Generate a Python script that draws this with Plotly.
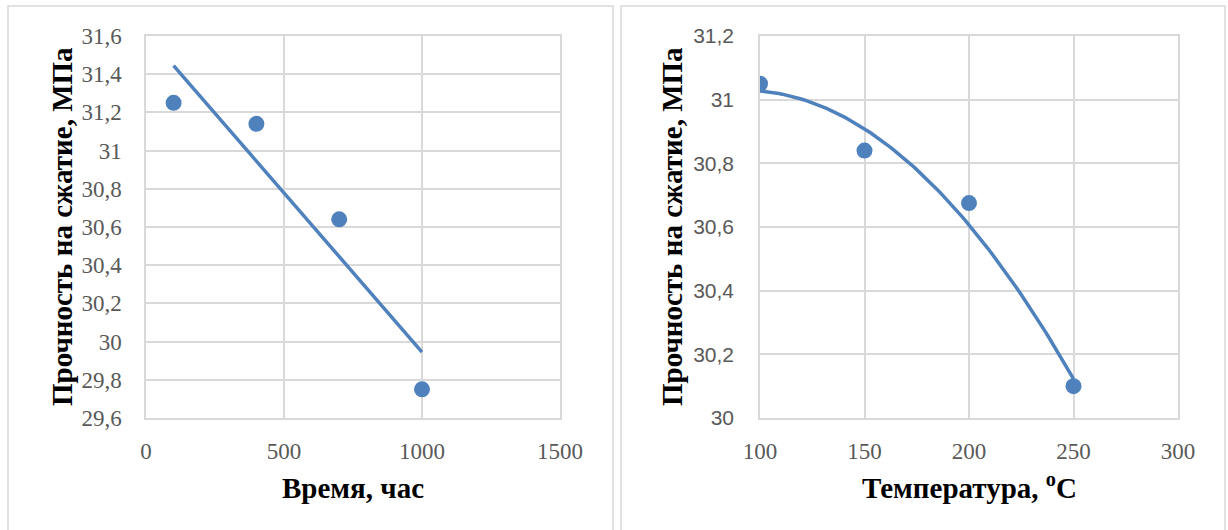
import numpy as np
import plotly.graph_objects as go

# Compressive strength vs exposure time
time_h = [100, 400, 700, 1000]
strength_time = [31.25, 31.14, 30.64, 29.75]

# Compressive strength vs temperature
temp_c = [100, 150, 200, 250]
strength_temp = [31.05, 30.84, 30.675, 30.10]

# Axis ticks
time_ticks = [0, 500, 1000, 1500]
time_tick_text = ["0", "500", "1000", "1500"]
left_y_ticks = [29.6, 29.8, 30.0, 30.2, 30.4, 30.6, 30.8, 31.0, 31.2, 31.4, 31.6]
left_y_text = ["29,6", "29,8", "30", "30,2", "30,4", "30,6", "30,8", "31", "31,2", "31,4", "31,6"]
temp_ticks = [100, 150, 200, 250, 300]
temp_tick_text = ["100", "150", "200", "250", "300"]
right_y_ticks = [30.0, 30.2, 30.4, 30.6, 30.8, 31.0, 31.2]
right_y_text = ["30", "30,2", "30,4", "30,6", "30,8", "31", "31,2"]

W, H = 1228, 530
BLUE = "#4F81BD"
GRID = "#D9D9D9"
SERIF = "Liberation Serif, Times New Roman, serif"
SANS = "Liberation Sans, Arial, sans-serif"


def px_x(p):
    return p / W


def px_y(p):
    return 1 - p / H


# plot-area placement (pixels)
left_box = (146, 560)
right_box = (760, 1178)
top_px, bottom_px = 36, 418

fig = go.Figure()

# Linear trend for the time series
k1 = np.polyfit(time_h, strength_time, 1)
tx = np.linspace(min(time_h), max(time_h), 50)
fig.add_trace(go.Scatter(x=tx, y=np.polyval(k1, tx), mode="lines",
                         line=dict(color=BLUE, width=3.5), xaxis="x", yaxis="y",
                         hoverinfo="skip"))
fig.add_trace(go.Scatter(x=time_h, y=strength_time, mode="markers",
                         marker=dict(color=BLUE, size=16), xaxis="x", yaxis="y"))

# Quadratic trend for the temperature series
k2 = np.polyfit(temp_c, strength_temp, 2)
cx = np.linspace(min(temp_c), max(temp_c), 100)
fig.add_trace(go.Scatter(x=cx, y=np.polyval(k2, cx), mode="lines",
                         line=dict(color=BLUE, width=3.5), xaxis="x2", yaxis="y2",
                         hoverinfo="skip"))
fig.add_trace(go.Scatter(x=temp_c, y=strength_temp, mode="markers",
                         marker=dict(color=BLUE, size=16), xaxis="x2", yaxis="y2"))

axis_common = dict(showgrid=True, gridcolor=GRID, gridwidth=1.5,
                   showline=True, linecolor=GRID, linewidth=1.5, mirror=True,
                   zeroline=False, ticks="", fixedrange=True, automargin=False)

ydom = [px_y(bottom_px), px_y(top_px)]

fig.update_layout(
    width=W, height=H,
    margin=dict(l=0, r=0, t=0, b=0),
    paper_bgcolor="white", plot_bgcolor="white",
    showlegend=False,
    xaxis=dict(domain=[px_x(left_box[0]), px_x(left_box[1])], range=[0, 1500],
               tickvals=time_ticks, ticktext=time_tick_text, anchor="y",
               tickfont=dict(family=SERIF, size=23, color="#595959"),
               ticklabelstandoff=12, **axis_common),
    yaxis=dict(domain=ydom, range=[29.6, 31.6], anchor="x",
               tickvals=left_y_ticks, ticktext=left_y_text,
               tickfont=dict(family=SERIF, size=23, color="#595959"),
               ticklabelstandoff=18, **axis_common),
    xaxis2=dict(domain=[px_x(right_box[0]), px_x(right_box[1])], range=[100, 300],
                tickvals=temp_ticks, ticktext=temp_tick_text, anchor="y2",
                tickfont=dict(family=SERIF, size=23, color="#595959"),
                ticklabelstandoff=12, **axis_common),
    yaxis2=dict(domain=ydom, range=[30.0, 31.2], anchor="x2",
                tickvals=right_y_ticks, ticktext=right_y_text,
                tickfont=dict(family=SANS, size=21, color="#595959"),
                ticklabelstandoff=20, **axis_common),
)

title_font = dict(family=SERIF, size=29, color="black")
mid_y = px_y((top_px + bottom_px) / 2)
annotations = [
    dict(text="<b>Прочность на сжатие, МПа</b>", x=px_x(62), y=mid_y, textangle=-90),
    dict(text="<b>Время, час</b>", x=px_x(sum(left_box) / 2), y=px_y(488), textangle=0),
    dict(text="<b>Прочность на сжатие, МПа</b>", x=px_x(672), y=mid_y, textangle=-90),
    dict(text="<b>Температура, <sup>o</sup>С</b>", x=px_x(sum(right_box) / 2), y=px_y(486),
         textangle=0),
]
for a in annotations:
    fig.add_annotation(xref="paper", yref="paper", showarrow=False,
                       xanchor="center", yanchor="middle", font=title_font, **a)

# Chart frames
for x0, x1 in [(8, 613), (621, 1225)]:
    fig.add_shape(type="rect", xref="paper", yref="paper",
                  x0=px_x(x0), x1=px_x(x1), y0=px_y(540), y1=px_y(6),
                  line=dict(color=GRID, width=1.5), layer="below")

fig.write_html("out.html")
